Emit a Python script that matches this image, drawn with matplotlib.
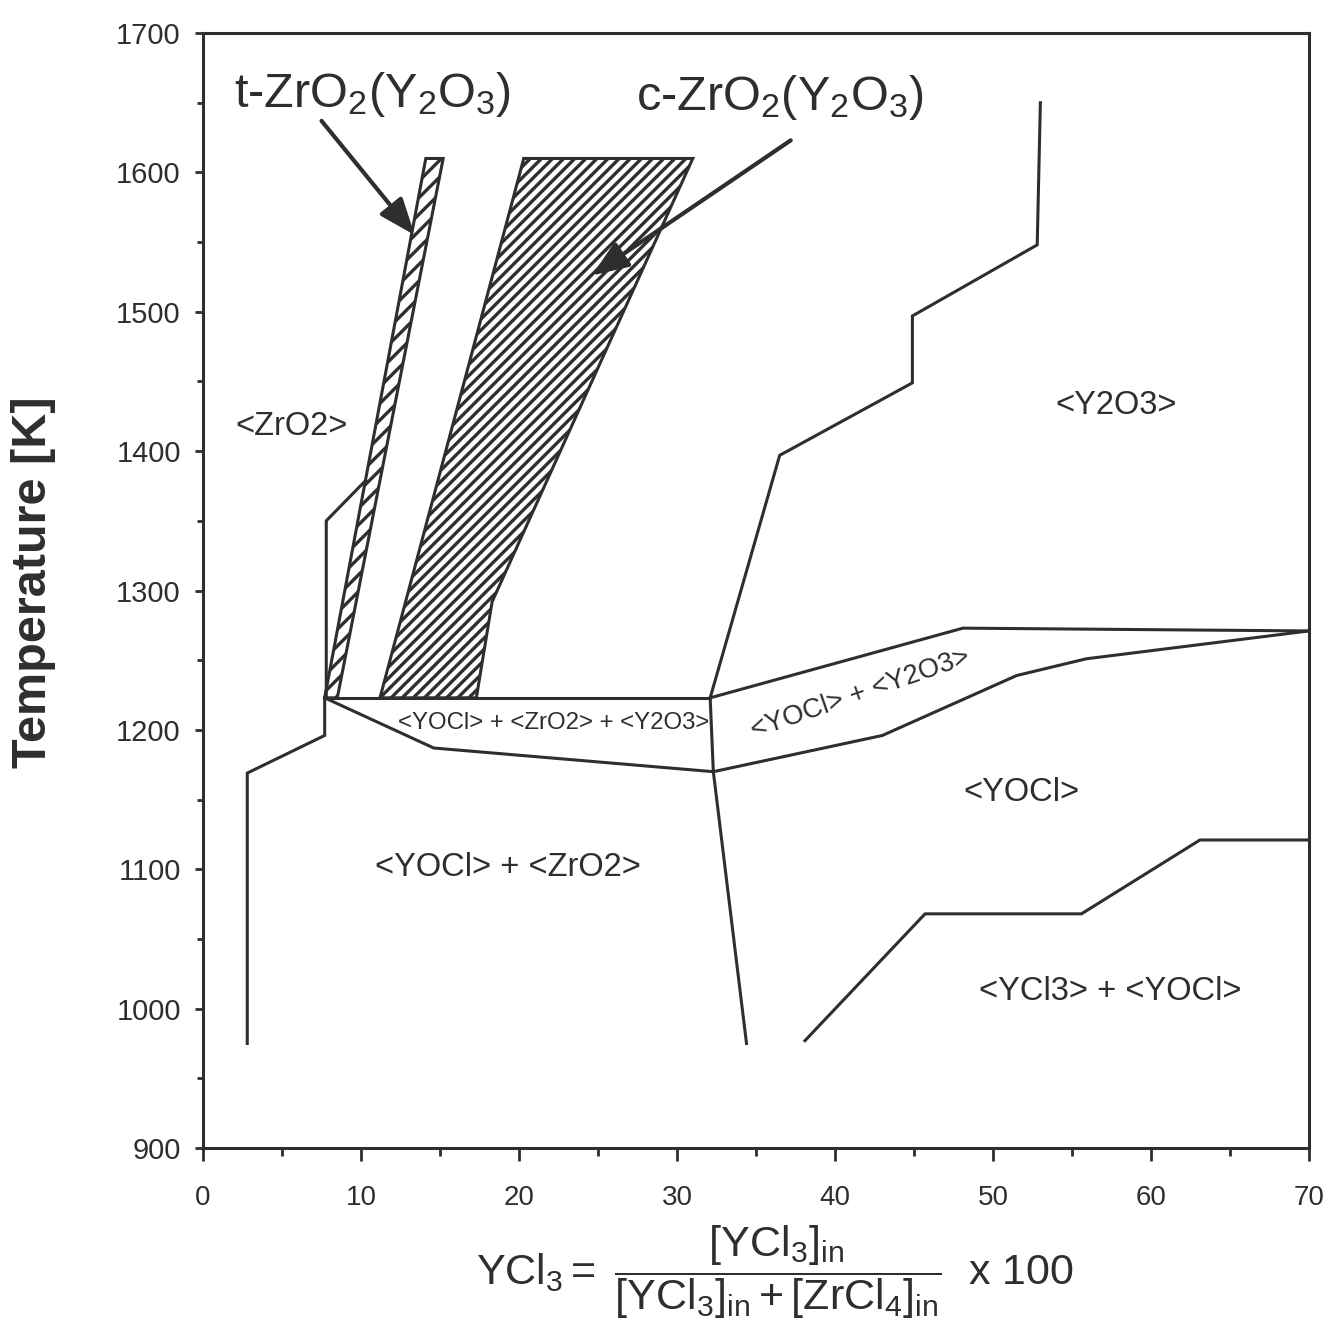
import matplotlib
matplotlib.use("Agg")
import matplotlib.pyplot as plt
from matplotlib import font_manager

installed = {f.name for f in font_manager.fontManager.ttflist}
NARROW = "Liberation Sans Narrow" if "Liberation Sans Narrow" in installed else "Liberation Sans"
has_narrow = NARROW != "Liberation Sans"

plt.rcParams["font.family"] = ["Liberation Sans", "DejaVu Sans"]
plt.rcParams["mathtext.fontset"] = "custom"
plt.rcParams["mathtext.rm"] = "Liberation Sans"
plt.rcParams["mathtext.it"] = "Liberation Sans"
plt.rcParams["mathtext.sf"] = NARROW
plt.rcParams["mathtext.default"] = "regular"
plt.rcParams["hatch.linewidth"] = 2.4
plt.rcParams["hatch.color"] = "#2e2e2e"

INK = "#2e2e2e"

# phase boundaries, (YCl3 %, T [K])
zro2_left_x = [2.8, 2.8, 7.7, 7.7, 7.8, 7.8, 10.3]
zro2_left_t = [975, 1169, 1196, 1223, 1223, 1350, 1379]

t_band_x = [7.7, 14.1, 15.2, 8.5]
t_band_t = [1223, 1610, 1610, 1223]

c_band_x = [11.2, 20.3, 31.0, 18.3, 17.3]
c_band_t = [1223, 1610, 1610, 1292, 1223]

three_top_x = [7.7, 32.1]
three_top_t = [1223, 1223]
three_bot_x = [7.7, 14.6, 32.3]
three_bot_t = [1223, 1187, 1170]

mid_x = [34.4, 32.3, 32.1, 36.5, 44.9, 44.9, 52.8, 53.0]
mid_t = [975, 1170, 1223, 1397, 1449, 1497, 1548, 1650]

yocl_up_x = [32.1, 48.1, 70.0]
yocl_up_t = [1223, 1273, 1271]
yocl_lo_x = [32.3, 43.0, 51.5, 55.9, 70.0]
yocl_lo_t = [1170, 1196, 1239, 1251, 1271]

ycl3_x = [38.1, 45.7, 55.6, 63.1, 70.0]
ycl3_t = [977, 1068, 1068, 1121, 1121]

region_labels = ["<ZrO2>", "<Y2O3>", "<YOCl> + <ZrO2> + <Y2O3>", "<YOCl> + <Y2O3>",
                 "<YOCl>", "<YOCl> + <ZrO2>", "<YCl3> + <YOCl>"]
label_x = [5.6, 57.8, 22.2, 41.6, 51.8, 19.3, 57.4]
label_t = [1418, 1433, 1205, 1226, 1155, 1101, 1012]
label_size = [23.5, 23.5, 17.3, 19.6, 23.5, 23.5, 23.5]
label_rot = [0, 0, 0, 19, 0, 0, 0]

fig = plt.figure(figsize=(13.41, 13.27), dpi=100)
ax = fig.add_axes([0.1514, 0.1349, 0.8247, 0.8402])

ax.fill(t_band_x, t_band_t, facecolor="white", edgecolor=INK, hatch="//", lw=2.2)
ax.fill(c_band_x, c_band_t, facecolor="white", edgecolor=INK, hatch="///", lw=2.2)

for xs, ts in [(zro2_left_x, zro2_left_t), (three_top_x, three_top_t),
               (three_bot_x, three_bot_t), (mid_x, mid_t),
               (yocl_up_x, yocl_up_t), (yocl_lo_x, yocl_lo_t), (ycl3_x, ycl3_t)]:
    ax.plot(xs, ts, color=INK, lw=2.2, solid_joinstyle="miter")

for s, x, t, fs, r in zip(region_labels, label_x, label_t, label_size, label_rot):
    ax.text(x, t, s, fontsize=fs, rotation=r, ha="center", va="center", color=INK)

arrow = dict(arrowstyle="-|>,head_length=0.9,head_width=0.35", lw=3, color=INK,
             shrinkA=0, shrinkB=0, mutation_scale=25)
ax.annotate("", xy=(13.4, 1555), xytext=(7.5, 1637), arrowprops=arrow)
ax.annotate("", xy=(24.6, 1526), xytext=(37.2, 1623), arrowprops=arrow)
ax.text(10.7, 1656, "t-ZrO$_2$(Y$_2$O$_3$)", fontsize=35, ha="center", va="center", color=INK)
ax.text(36.5, 1654, "c-ZrO$_2$(Y$_2$O$_3$)", fontsize=35, ha="center", va="center", color=INK)

ax.set_xlim(0, 70)
ax.set_ylim(900, 1700)
ax.set_xticks(range(0, 71, 10))
ax.set_xticks(range(5, 70, 10), minor=True)
ax.set_yticks(range(900, 1701, 100))
ax.set_yticks(range(950, 1700, 100), minor=True)
ax.tick_params(which="both", direction="out", width=2, color=INK, top=False, right=False)
ax.tick_params(axis="y", which="major", length=6)
ax.tick_params(axis="y", which="minor", length=4)
ax.tick_params(axis="x", which="major", length=9)
ax.tick_params(axis="x", which="minor", length=6)
ax.tick_params(axis="x", labelsize=23 if has_narrow else 20, pad=18, labelcolor=INK)
ax.tick_params(axis="y", labelsize=21, pad=10, labelcolor=INK)
for lab in ax.get_xticklabels():
    lab.set_fontfamily(NARROW)
for sp in ax.spines.values():
    sp.set_linewidth(2.2)
    sp.set_color(INK)

fig.text(0.025, 0.561, "Temperature [K]", rotation=90, fontsize=35, fontweight="bold",
         ha="center", va="center", color=INK)
fig.text(0.578, 0.041,
         r"$\mathsf{YCl_3 =\ \dfrac{[YCl_3]_{in}}{[YCl_3]_{in} + [ZrCl_4]_{in}}\ \ x\ 100}$",
         fontsize=38 if has_narrow else 31, ha="center", va="center", color=INK)

fig.savefig("out.png", dpi=100)
